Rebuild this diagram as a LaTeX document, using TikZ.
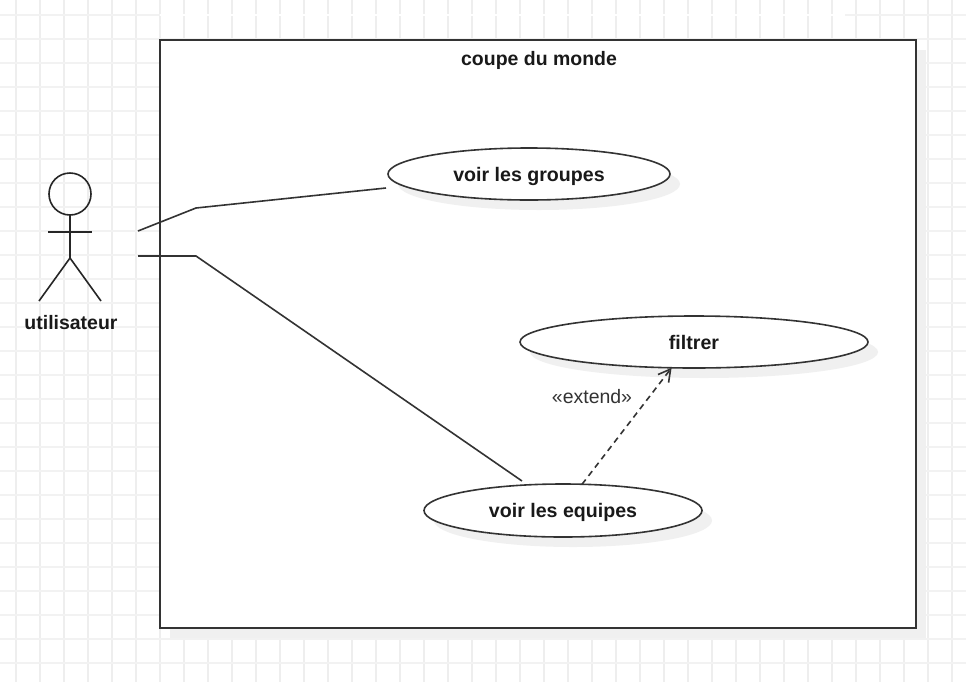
\documentclass[tikz,border=0pt]{standalone}
\usepackage{fontspec}
\setmainfont{Liberation Sans}
\usetikzlibrary{shapes.geometric,arrows.meta}
\definecolor{gridc}{HTML}{EEEEEE}
\definecolor{shadowc}{HTML}{F0F0F0}
\definecolor{inkc}{HTML}{333333}
\tikzset{
  x=0.75pt,y=-0.75pt,
  gridline/.style={draw=gridc,line width=0.95pt},
  gridfaint/.style={draw=gridc!75!white,line width=0.9pt},
  usecase/.style={ellipse,draw=inkc,fill=white,line width=1.2pt,inner sep=0pt,outer sep=0pt,font=\fontsize{14.7}{18}\selectfont\bfseries,text=black!90,text depth=0pt},
  shadowblob/.style={ellipse,fill=shadowc,draw=none,inner sep=0pt,outer sep=0pt},
  wire/.style={draw=inkc,line width=1.2pt},
  stick/.style={draw=black!85,line width=1.2pt},
  title/.style={font=\fontsize{14.6}{18}\selectfont\bfseries,text=black!90,inner sep=0pt,text depth=0pt},
}
\begin{document}
\begin{tikzpicture}
\useasboundingbox (0,0) rectangle (966,682);
\fill[white] (0,0) rectangle (966,682);
% grid
\foreach \gx in {16,40,...,952} \draw[gridline] (\gx,0) -- (\gx,682);
\foreach \gy in {39,63,...,663} \draw[gridfaint] (0,\gy) -- (966,\gy);
\draw[gridfaint] (0,15) -- (160,15);
\draw[gridfaint] (845,15) -- (966,15);
\draw[draw=white,line width=1pt] (160,15) -- (845,15);
% frame
\fill[shadowc] (170,50) rectangle (926,638);
\node[draw=black!80,fill=white,line width=1.25pt,inner sep=0pt,outer sep=0pt,minimum width=567pt,minimum height=441pt] (frame) at (538,334) {};
\node[title] (frametitle) at (539,58) {coupe du monde};
% use cases
\node[shadowblob,minimum width=211.5pt,minimum height=39pt] (sg) at (539,184) {};
\node[shadowblob,minimum width=261pt,minimum height=39pt] (sf) at (704,352) {};
\node[shadowblob,minimum width=208.5pt,minimum height=39.75pt] (se) at (573,520.5) {};
\node[usecase,minimum width=211.5pt,minimum height=39pt] (groupes) at (529,174) {voir les groupes};
\node[usecase,minimum width=261pt,minimum height=39pt] (filtrer) at (694,342) {filtrer};
\node[usecase,minimum width=208.5pt,minimum height=39.75pt] (equipes) at (563,510.5) {voir les equipes};
% actor
\node[circle,stick,minimum size=31.5pt,inner sep=0pt,outer sep=0pt] (head) at (70,194) {};
\coordinate (hip) at (70,258);
\coordinate (armL) at (48,232);
\coordinate (armR) at (92,232);
\coordinate (footL) at (39,301);
\coordinate (footR) at (101,301);
\draw[stick] (head.south) -- (hip);
\draw[stick] (armL) -- (armR);
\draw[stick,line join=round] (footL) -- (hip) -- (footR);
\node[title] (actor) at (71,322) {utilisateur};
% connectors
\coordinate (a1) at (138,231);
\coordinate (b1) at (196,208);
\coordinate (c1) at (386,188);
\coordinate (a2) at (138,256);
\coordinate (b2) at (196,256);
\coordinate (c2) at (522,481);
\draw[wire] (a1) -- (b1) -- (c1);
\draw[wire] (a2) -- (b2) -- (c2);
\draw[wire,dash pattern=on 4.5pt off 3.4pt,-{Straight Barb[length=9pt,width=10pt,line width=1.2pt]}] (equipes.54) -- (filtrer.229);
\node[font=\fontsize{14.6}{18}\selectfont,text=inkc,inner sep=0pt] (extlabel) at (592,397) {«extend»};
\end{tikzpicture}
\end{document}
